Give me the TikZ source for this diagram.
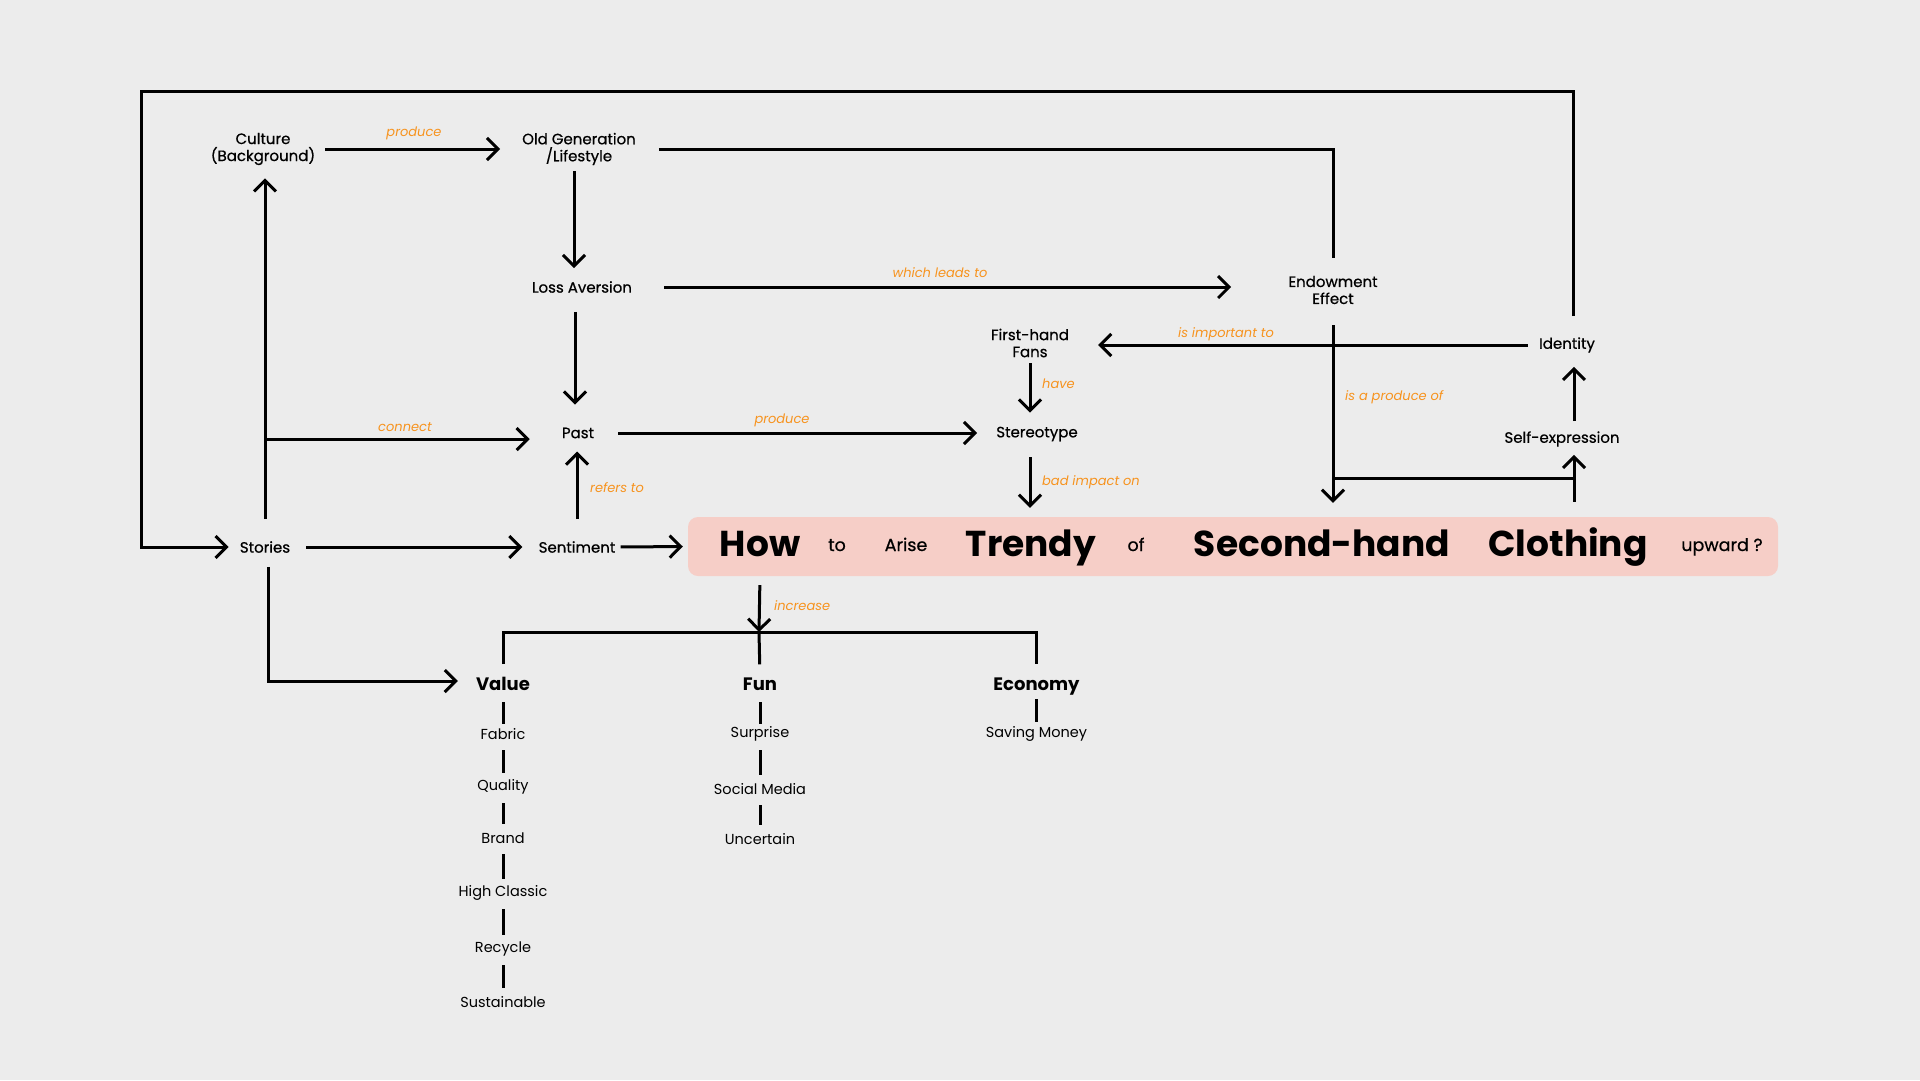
\documentclass[tikz,border=0pt]{standalone}
\usepackage{fontspec}
\setmainfont{Poppins}
\newfontfamily\medfont{Poppins}[FakeBold=0.6]
\usepackage{tikz}
\usetikzlibrary{arrows.meta}
\definecolor{bg}{HTML}{ECECEC}
\definecolor{tagorange}{HTML}{F7931E}
\definecolor{rose}{HTML}{F6CEC7}

\begin{document}
\begin{tikzpicture}[x=1pt, y=-1pt,
  box/.style={inner sep=0pt, align=center, font={\medfont\fontsize{15}{17}\selectfont}},
  item/.style={inner sep=0pt, font={\fontsize{14.5}{17}\selectfont}},
  hdr/.style={inner sep=0pt, font={\bfseries\fontsize{18}{20}\selectfont}},
  tag/.style={inner sep=0pt, text=tagorange, font={\itshape\fontsize{13}{15}\selectfont}},
  big/.style={anchor=base, inner sep=0pt, font={\bfseries\fontsize{36}{40}\selectfont}},
  sml/.style={anchor=base, inner sep=0pt, font={\medfont\fontsize{17.5}{20}\selectfont}},
  link/.style={line width=3pt},
  arr/.style={line width=3pt, -{Straight Barb[length=11pt,width=22pt]}},
  stub/.style={line width=3pt, shorten <=16pt, shorten >=14pt}]
\fill[bg] (0,0) rectangle (1920,1080);
% Nodi
\node[box] (culture) at (263,149) {Culture\\(Background)};
\node[box] (oldgen) at (579,149) {Old Generation\\/Lifestyle};
\node[box] (loss) at (582,287) {Loss Aversion};
\node[box] (endow) at (1333,290) {Endowment\\Effect};
\node[box] (fans) at (1030,343) {First-hand\\Fans};
\node[box] (identity) at (1567,345) {Identity};
\node[box] (past) at (578,433) {Past};
\node[box] (stereo) at (1037,434) {Stereotype};
\node[box] (selfexp) at (1562,439) {Self-expression};
\node[box] (stories) at (265,547) {Stories};
\node[box] (sentiment) at (577,547) {Sentiment};
\node[hdr] (value) at (503,684) {Value};
\node[hdr] (fun) at (760,684) {Fun};
\node[hdr] (economy) at (1036.5,687) {Economy};
\coordinate (corner) at (141,91);
\coordinate (bar) at (759,632);
% Titolo
\node[fill=rose, rounded corners=10pt, minimum width=1090pt, minimum height=59pt, inner sep=0pt] (title) at (1233,546.5) {};
\node[big] (how) at (760,556.5) {How};
\node[sml] (to) at (837,551) {to};
\node[sml] (arise) at (906,551) {Arise};
\node[big] (trendy) at (1031,556.5) {Trendy};
\node[sml] (of) at (1136,551) {of};
\node[big] (second) at (1322,556.5) {Second-hand};
\node[big] (clothing) at (1568,556.5) {Clothing};
\node[sml] (upward) at (1722,551) {upward ?};
% Etichette
\node[tag] (tproduce) at (414,133) {produce};
\node[tag] (tleads) at (940,273) {which leads to};
\node[tag] (timportant) at (1226,334) {is important to};
\node[tag, anchor=west] (tprodof) at (1345,397) {is a produce of};
\node[tag] (tconnect) at (405,427) {connect};
\node[tag] (tproduce2) at (782,420) {produce};
\node[tag, anchor=west] (trefers) at (590,488) {refers to};
\node[tag, anchor=west] (thave) at (1042,384) {have};
\node[tag, anchor=west] (tbad) at (1042,482) {bad impact on};
\node[tag, anchor=west] (tincrease) at (774,606) {increase};
% Frecce
\draw[arr, shorten <=10pt, shorten >=22pt] (culture.east) -- (oldgen.west);
\draw[link, shorten <=23pt, shorten >=18pt] (oldgen.east) -| (endow.north);
\draw[arr, shorten <=6pt, shorten >=13pt] ([xshift=-5pt]oldgen.south) -- ([xshift=-5pt]oldgen.south |- loss.north);
\draw[arr, shorten <=32pt, shorten >=57pt] (loss.east) -- (loss.east -| endow.west);
\draw[arr, shorten <=19pt, shorten >=23pt] ([xshift=-7pt]loss.south) -- ([xshift=-7pt]loss.south |- past.north);
\draw[arr, shorten <=22pt, shorten >=13pt] (stories.north) -- (stories.north |- culture.south);
\draw[arr, shorten >=32pt] ([yshift=-6pt]stories.north |- past.west) -- ([yshift=-6pt]past.west);
\draw[arr, shorten <=24pt, shorten >=19pt] (past.east) -- (past.east -| stereo.west);
\draw[arr, shorten <=22pt, shorten >=13pt] (sentiment.north) -- (sentiment.north |- past.south);
\draw[arr, shorten <=21pt, shorten >=11pt] ([xshift=6pt]identity.north) |- (corner) |- (stories.west);
\draw[arr, shorten <=16pt, shorten >=16pt] (stories.east) -- (sentiment.west);
\draw[arr, shorten <=5pt, shorten >=5pt] (sentiment.east) -- (title.west);
\draw[arr, shorten <=14pt, shorten >=18pt] ([xshift=3pt]stories.south) |- ([yshift=3pt]value.west);
\draw[arr, shorten <=11pt, shorten >=29pt] (identity.west) -- (identity.west -| fans.east);
\draw[arr, shorten <=6pt, shorten >=14pt] (fans.south) -- (fans.south |- stereo.north);
\draw[arr, shorten <=16pt, shorten >=9pt] ([xshift=-7pt]stereo.south) -- ([xshift=-7pt]stereo.south |- title.north);
\draw[arr, shorten <=21pt, shorten >=14pt] (endow.south) -- (endow.south |- title.north);
\draw[link] ([yshift=38pt]endow.south |- title.north) -- ([xshift=12pt,yshift=38pt]selfexp.south |- title.north);
\draw[arr, shorten <=15pt, shorten >=8pt] ([xshift=12pt]selfexp.south |- title.north) -- ([xshift=12pt]selfexp.south);
\draw[arr, shorten <=10pt, shorten >=14pt] ([xshift=12pt]selfexp.north) -- ([xshift=12pt]selfexp.north |- identity.south);
% Rami
\draw[arr, shorten <=9pt] (fun.north |- title.south) -- (bar);
\draw[link, shorten <=13pt, shorten >=14pt] (value.north) |- (bar) -| (economy.north);
\draw[link, shorten >=13pt] (bar) -- (fun.north);
\node[item] (fabric) at (503,734) {Fabric};
\node[item] (quality) at (503,787) {Quality};
\node[item] (brand) at (503,838) {Brand};
\node[item] (classic) at (503,893) {High Classic};
\node[item] (recycle) at (503,949) {Recycle};
\node[item] (sustainable) at (503,1002) {Sustainable};
\node[item] (surprise) at (760,734) {Surprise};
\node[item] (social) at (760,789) {Social Media};
\node[item] (uncertain) at (760,839) {Uncertain};
\node[item] (saving) at (1036.5,734) {Saving Money};
\draw[stub, shorten <=18pt, shorten >=10pt] (value.center) -- (fabric.center);
\draw[stub] (fabric.center) -- (quality.center);
\draw[stub] (quality.center) -- (brand.center);
\draw[stub] (brand.center) -- (classic.center);
\draw[stub] (classic.center) -- (recycle.center);
\draw[stub] (recycle.center) -- (sustainable.center);
\draw[stub, shorten <=18pt, shorten >=10pt] (fun.center) -- (surprise.center);
\draw[stub] (surprise.center) -- (social.center);
\draw[stub] (social.center) -- (uncertain.center);
\draw[stub, shorten <=12pt, shorten >=12pt] (economy.center) -- (saving.center);
\end{tikzpicture}
\end{document}
